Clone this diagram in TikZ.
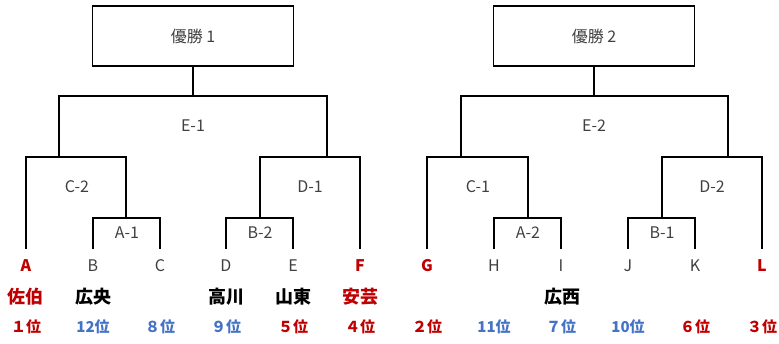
\documentclass[tikz,border=0pt]{standalone}
\usepackage{fontspec}
\setmainfont{Noto Sans CJK JP}
\definecolor{winred}{HTML}{C00000}
\definecolor{loseblue}{HTML}{4472C4}
\definecolor{labelgray}{HTML}{404040}
\begin{document}
\begin{tikzpicture}[x=1pt,y=-1pt,line width=1.6pt]

      \useasboundingbox (0,0) rectangle (779,343);

      % finals
      \begin{scope}[every node/.style={draw, minimum width=201pt, minimum height=60pt, font=\fontsize{16}{18}\selectfont, text=labelgray}]
        \node (win1) at (193,36)  {優勝 1};
        \node (win2) at (594,36)  {優勝 2};
      \end{scope}

      % teams
      \begin{scope}[every node/.style={inner sep=0, minimum height=30pt, text height=12pt, text depth=0pt, font=\fontsize{16}{18}\selectfont, text=labelgray}]
        \node (A) at (26,265)  {\textcolor{winred}{\bfseries A}};
        \node (B) at (93,265)  {B};
        \node (C) at (160,265) {C};
        \node (D) at (226,265) {D};
        \node (E) at (293,265) {E};
        \node (F) at (360,265) {\textcolor{winred}{\bfseries F}};
        \node (G) at (427,265) {\textcolor{winred}{\bfseries G}};
        \node (H) at (494,265) {H};
        \node (I) at (561,265) {I};
        \node (J) at (628,265) {J};
        \node (K) at (695,265) {K};
        \node (L) at (762,265) {\textcolor{winred}{\bfseries L}};
      \end{scope}

      % bracket corners
      \coordinate (a1) at (126,218);
      \coordinate (b2) at (260,218);
      \coordinate (c2) at (59,157);
      \coordinate (d1) at (327,157);
      \coordinate (e1) at (193,96);
      \coordinate (a2) at (528,218);
      \coordinate (b1) at (662,218);
      \coordinate (c1) at (461,157);
      \coordinate (d2) at (728,157);
      \coordinate (e2) at (594,96);

      \draw (B.north) |- (a1) -| (C.north);
      \draw (D.north) |- (b2) -| (E.north);
      \draw (A.north) |- (c2) -| (a1);
      \draw (b2) |- (d1) -| (F.north);
      \draw (c2) |- (e1) -| (d1);
      \draw (e1) -- (win1.south);

      \draw (H.north) |- (a2) -| (I.north);
      \draw (J.north) |- (b1) -| (K.north);
      \draw (G.north) |- (c1) -| (a2);
      \draw (b1) |- (d2) -| (L.north);
      \draw (c1) |- (e2) -| (d2);
      \draw (e2) -- (win2.south);

      % match labels
      \begin{scope}[every node/.style={font=\fontsize{16}{18}\selectfont, text=labelgray}]
        \node (lE1) at (193,126) {E-1};
        \node (lC2) at (77,187)  {C-2};
        \node (lD1) at (310,187) {D-1};
        \node (lA1) at (127,233) {A-1};
        \node (lB2) at (260,233) {B-2};
        \node (lE2) at (594,126) {E-2};
        \node (lC1) at (478,187) {C-1};
        \node (lD2) at (712,187) {D-2};
        \node (lA2) at (528,233) {A-2};
        \node (lB1) at (662,233) {B-1};
      \end{scope}

      % schools
      \begin{scope}[every node/.style={font=\fontsize{18}{20}\selectfont\bfseries}]
        \node[text=winred] (nA) at (26,297)  {佐伯};
        \node (nB) at (93,297)  {広央};
        \node (nD) at (226,297) {高川};
        \node (nE) at (293,297) {山東};
        \node[text=winred] (nF) at (360,297) {安芸};
        \node (nI) at (562,297) {広西};
      \end{scope}

      % ranks
      \begin{scope}[every node/.style={font=\fontsize{15}{17}\selectfont\bfseries}]
        \node[text=winred]   (rA) at (26,327)  {１位};
        \node[text=loseblue] (rB) at (93,327)  {12位};
        \node[text=loseblue] (rC) at (160,327) {８位};
        \node[text=loseblue] (rD) at (226,327) {９位};
        \node[text=winred]   (rE) at (293,327) {５位};
        \node[text=winred]   (rF) at (360,327) {４位};
        \node[text=winred]   (rG) at (427,327) {２位};
        \node[text=loseblue] (rH) at (494,327) {11位};
        \node[text=loseblue] (rI) at (561,327) {７位};
        \node[text=loseblue] (rJ) at (628,327) {10位};
        \node[text=winred]   (rK) at (695,327) {６位};
        \node[text=winred]   (rL) at (762,327) {３位};
      \end{scope}

    \end{tikzpicture}
\end{document}
